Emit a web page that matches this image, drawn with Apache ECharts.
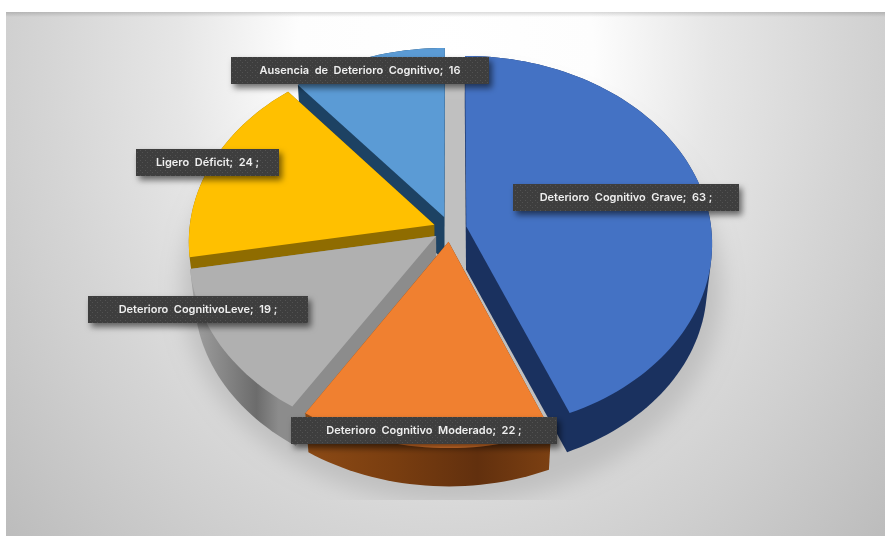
<!DOCTYPE html>
<html>
<head>
<meta charset="utf-8">
<style>html,body{margin:0;padding:0;background:#fff}#chart{width:885px;height:536px}</style>
<script src="https://cdn.jsdelivr.net/npm/echarts@6/dist/echarts.min.js"></script>
</head>
<body>
<div id="chart"></div>
<script>
// Cognitive impairment counts, in clockwise pie order from twelve o'clock
const categories = ['Deterioro Cognitivo Grave', 'Deterioro Cognitivo Moderado', 'Deterioro CognitivoLeve', 'Ligero Déficit', 'Ausencia de Deterioro Cognitivo'];
const counts = [63, 22, 19, 24, 16];
const labelTails = [' ;', ' ;', ' ;', ' ;', ''];

const topColors = ['#4472c4', '#f08030', '#b0b0b0', '#ffc000', '#5b9bd5'];
// Horizontal colour ramps for the extruded wall of each slice
const sideRamps = [
  [[0, '#1a315f'], [1, '#1a315f']],
  [[0, '#8c4a15'], [0.35, '#7a3e10'], [0.7, '#62300e'], [1, '#7c4012']],
  [[0, '#a2a2a2'], [0.27, '#6c6c6c'], [0.36, '#8c8c8c'], [1, '#8c8c8c']],
  [[0, '#8f6c00'], [1, '#8f6c00']],
  [[0, '#1d4263'], [1, '#1d4263']]
];
// Back-to-front paint order, so nearer slices hide the walls behind them
const paintOrder = [4, 3, 2, 0, 1];
// Label boxes: left, top, width, height
const labelBoxes = [
  [513, 184, 226, 27],
  [291, 417, 266, 27],
  [88, 296, 220, 27],
  [136, 149, 143, 27],
  [231, 57, 258, 27]
];

// Perspective model of the tilted disc
const disc = { cx: 450, cy: 229, rx: 245, ry: 186, persp: 0.0877, depth: 43, shrink: 0.02, explode: 0.068 };
const total = counts.reduce((a, b) => a + b, 0);

function project(u, v, layer) {
  const d = 1 - disc.persp * v + disc.shrink * layer;
  return [disc.cx + disc.rx * u / d, disc.cy + disc.ry * v / d + disc.depth * layer];
}

function sliceOutline(index, layer) {
  const before = counts.slice(0, index).reduce((a, b) => a + b, 0);
  const start = before / total * Math.PI * 2;
  const end = (before + counts[index]) / total * Math.PI * 2;
  const mid = (start + end) / 2;
  const ou = disc.explode * Math.sin(mid);
  const ov = -disc.explode * Math.cos(mid);
  const pts = [project(ou, ov, layer)];
  const steps = Math.ceil((end - start) / 0.03);
  for (let i = 0; i <= steps; i++) {
    const a = start + (end - start) * i / steps;
    pts.push(project(ou + Math.sin(a), ov - Math.cos(a), layer));
  }
  return pts;
}

// Monotone-chain hull: the wall silhouette of a convex slice
function convexHull(points) {
  const p = points.slice().sort((a, b) => a[0] - b[0] || a[1] - b[1]);
  const cross = (o, a, b) => (a[0] - o[0]) * (b[1] - o[1]) - (a[1] - o[1]) * (b[0] - o[0]);
  const chain = list => {
    const out = [];
    list.forEach(q => {
      while (out.length >= 2 && cross(out[out.length - 2], out[out.length - 1], q) <= 0) out.pop();
      out.push(q);
    });
    out.pop();
    return out;
  };
  return chain(p).concat(chain(p.slice().reverse()));
}

function dotPattern() {
  const c = document.createElement('canvas');
  c.width = 5; c.height = 5;
  const g = c.getContext('2d');
  g.fillStyle = '#3e3e3e';
  g.fillRect(0, 0, 5, 5);
  g.fillStyle = '#525252';
  g.fillRect(0, 0, 1, 1);
  g.fillRect(2, 2, 1, 1);
  return { image: c, repeat: 'repeat' };
}
const labelFill = dotPattern();

function renderSlice(params) {
  const i = params.dataIndex;
  const topPts = sliceOutline(i, 0);
  const lowPts = sliceOutline(i, 1);
  const all = topPts.concat(lowPts);
  const xs = all.map(p => p[0]);
  const sideFill = new echarts.graphic.LinearGradient(
    Math.min(...xs), 0, Math.max(...xs), 0,
    sideRamps[i].map(s => ({ offset: s[0], color: s[1] })),
    true
  );
  const z2 = paintOrder.indexOf(i) * 2;
  return {
    type: 'group',
    children: [
      { type: 'polygon', z2, shape: { points: convexHull(all) }, style: { fill: sideFill } },
      { type: 'polygon', z2: z2 + 1, shape: { points: topPts }, style: { fill: topColors[i] } }
    ]
  };
}

function renderLabel(params) {
  const i = params.dataIndex;
  const b = labelBoxes[i];
  const text = categories[i].replace(/ /g, '  ') + ';  ' + counts[i] + labelTails[i];
  return {
    type: 'group',
    children: [
      {
        type: 'rect',
        shape: { x: b[0], y: b[1], width: b[2], height: b[3] },
        style: { fill: labelFill, shadowBlur: 6, shadowOffsetX: 3, shadowOffsetY: 4, shadowColor: 'rgba(0,0,0,0.55)' }
      },
      {
        type: 'text',
        style: {
          x: b[0] + b[2] / 2, y: b[1] + b[3] / 2,
          text, fill: '#efefef', align: 'center', verticalAlign: 'middle',
          font: '600 11px Inter, Lato, sans-serif'
        }
      }
    ]
  };
}

// Soft cast shadow of the whole pie; only the blurred copy lands on the canvas
function renderShadow() {
  const shift = 2000;
  return {
    type: 'group',
    clipPath: { type: 'rect', shape: { x: 0, y: 0, width: 885, height: 500 } },
    children: [{
      type: 'ellipse',
      shape: { cx: 452 - shift, cy: 290, rx: 270, ry: 214 },
      style: { fill: '#000', shadowBlur: 22, shadowOffsetX: shift, shadowColor: '#c0c0c0' }
    }]
  };
}

const chart = echarts.init(document.getElementById('chart'), null, { renderer: 'canvas' });
chart.setOption({
  animation: false,
  backgroundColor: '#ffffff',
  graphic: [
    {
      type: 'rect', z: 0, x: 6, y: 12, scaleX: 0.825,
      shape: { x: 0, y: 0, width: 879 / 0.825, height: 524 },
      style: {
        fill: new echarts.graphic.RadialGradient(0.5, 0.08, 1.373, [
          { offset: 0, color: '#ffffff' },
          { offset: 0.25, color: '#fdfdfd' },
          { offset: 0.45, color: '#e6e6e6' },
          { offset: 0.67, color: '#d5d5d5' },
          { offset: 0.74, color: '#d0d0d0' },
          { offset: 1, color: '#bcbcbc' }
        ])
      }
    },
    {
      type: 'rect', z: 0, x: 6, y: 12,
      shape: { x: 0, y: 0, width: 879, height: 5 },
      style: {
        fill: new echarts.graphic.LinearGradient(0, 0, 0, 1, [
          { offset: 0, color: 'rgba(0,0,0,0.14)' },
          { offset: 1, color: 'rgba(0,0,0,0)' }
        ])
      }
    }
  ],
  series: [
    { type: 'custom', coordinateSystem: 'none', z: 1, silent: true, data: [0], renderItem: renderShadow },
    { type: 'custom', coordinateSystem: 'none', z: 2, silent: true, data: counts, renderItem: renderSlice },
    { type: 'custom', coordinateSystem: 'none', z: 3, silent: true, data: categories, renderItem: renderLabel }
  ]
});
</script>
</body>
</html>
